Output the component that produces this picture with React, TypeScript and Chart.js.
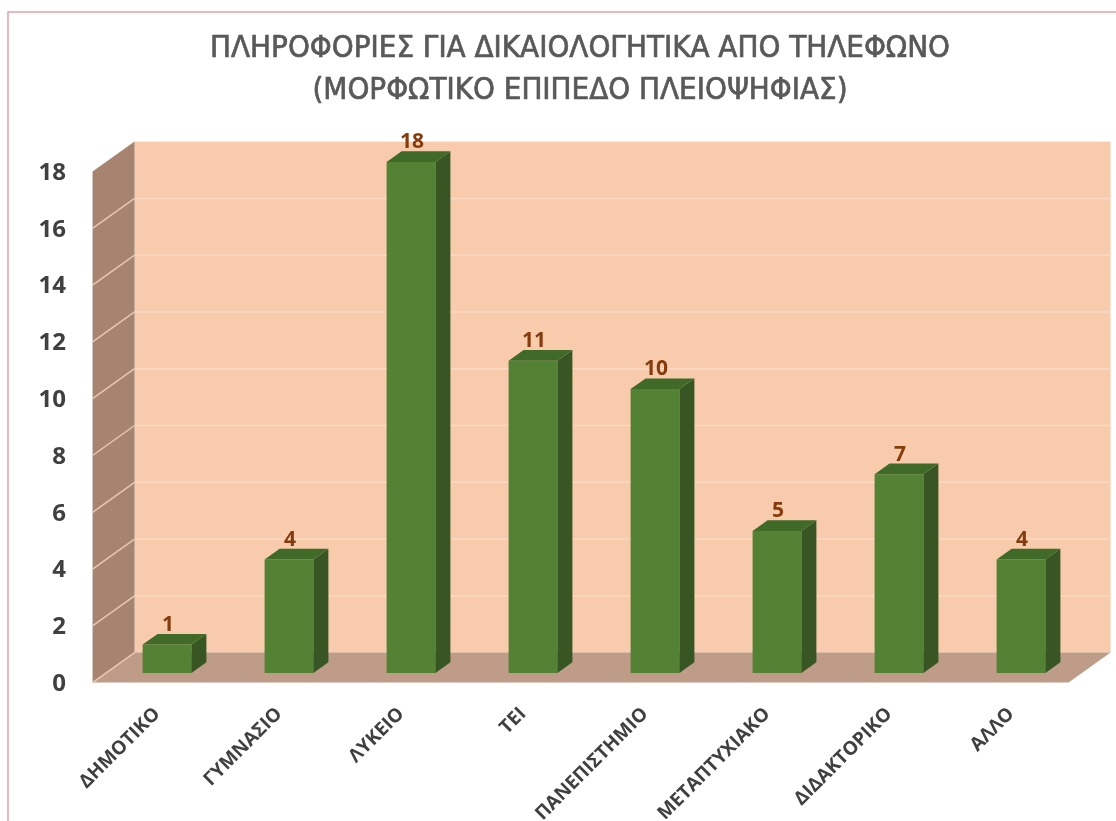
import React, { useEffect, useRef } from "react";
import { Chart, registerables } from "chart.js";

Chart.register(...registerables);

const TITLE_LINES = [
  "ΠΛΗΡΟΦΟΡΙΕΣ ΓΙΑ ΔΙΚΑΙΟΛΟΓΗΤΙΚΑ ΑΠΟ ΤΗΛΕΦΩΝΟ",
  "(ΜΟΡΦΩΤΙΚΟ ΕΠΙΠΕΔΟ ΠΛΕΙΟΨΗΦΙΑΣ)",
];

const CATEGORIES = [
  "ΔΗΜΟΤΙΚΟ",
  "ΓΥΜΝΑΣΙΟ",
  "ΛΥΚΕΙΟ",
  "ΤΕΙ",
  "ΠΑΝΕΠΙΣΤΗΜΙΟ",
  "ΜΕΤΑΠΤΥΧΙΑΚΟ",
  "ΔΙΔΑΚΤΟΡΙΚΟ",
  "ΑΛΛΟ",
];

const VALUES = [1, 4, 18, 11, 10, 5, 7, 4];

const Y_MIN = 0;
const Y_MAX = 18;
const Y_STEP = 2;

// 3D geometry (pixels)
const DEPTH_DX = 42;
const DEPTH_DY = -30;
const FRONT_FRAC = 0.32; // where bar front faces sit in the depth
const BAR_DX = 15;
const BAR_DY = -10.7;

const COLORS = {
  backWall: "#f8cbad",
  backGrid: "#fbd9c3",
  sideWall: "#a6846f",
  sideGrid: "#e9c8b2",
  floor: "#bf9c87",
  barFront: "#548235",
  barSide: "#375623",
  barTop: "#3f6a28",
  label: "#843c0c",
  axisText: "#404040",
  title: "#595959",
  frame: "#e0a3a8",
};

const wallsPlugin = {
  id: "walls3d",
  beforeDatasetsDraw(chart: any) {
    const { ctx, chartArea, scales } = chart;
    const y = scales.y;
    const fx = -FRONT_FRAC * DEPTH_DX;
    const fy = -FRONT_FRAC * DEPTH_DY;
    const bx = (1 - FRONT_FRAC) * DEPTH_DX;
    const by = (1 - FRONT_FRAC) * DEPTH_DY;
    const L = chartArea.left;
    const R = chartArea.right;
    const y0 = y.getPixelForValue(Y_MIN);
    const yT = y.getPixelForValue(Y_MAX);
    ctx.save();
    // frame
    ctx.strokeStyle = COLORS.frame;
    ctx.lineWidth = 1.5;
    ctx.beginPath();
    ctx.moveTo(8, chart.height + 5);
    ctx.lineTo(8, 12);
    ctx.lineTo(chart.width + 5, 12);
    ctx.stroke();
    // back wall
    ctx.fillStyle = COLORS.backWall;
    ctx.fillRect(L + bx, yT + by, R - L, y0 - yT);
    // back wall grid
    ctx.strokeStyle = COLORS.backGrid;
    ctx.lineWidth = 1.5;
    for (let v = Y_MIN + Y_STEP; v < Y_MAX; v += Y_STEP) {
      const py = y.getPixelForValue(v) + by;
      ctx.beginPath();
      ctx.moveTo(L + bx, py);
      ctx.lineTo(R + bx, py);
      ctx.stroke();
    }
    // side wall
    ctx.fillStyle = COLORS.sideWall;
    ctx.beginPath();
    ctx.moveTo(L + fx, y0 + fy);
    ctx.lineTo(L + fx, yT + fy);
    ctx.lineTo(L + bx, yT + by);
    ctx.lineTo(L + bx, y0 + by);
    ctx.closePath();
    ctx.fill();
    // floor
    ctx.fillStyle = COLORS.floor;
    ctx.beginPath();
    ctx.moveTo(L + fx, y0 + fy);
    ctx.lineTo(R + fx, y0 + fy);
    ctx.lineTo(R + bx, y0 + by);
    ctx.lineTo(L + bx, y0 + by);
    ctx.closePath();
    ctx.fill();
    // side wall grid
    ctx.strokeStyle = COLORS.sideGrid;
    ctx.lineWidth = 1.5;
    for (let v = Y_MIN; v < Y_MAX; v += Y_STEP) {
      const py = y.getPixelForValue(v);
      ctx.beginPath();
      ctx.moveTo(L + fx, py + fy);
      ctx.lineTo(L + bx, py + by);
      ctx.stroke();
    }
    ctx.restore();
  },
  afterDatasetsDraw(chart: any) {
    const { ctx } = chart;
    const meta = chart.getDatasetMeta(0);
    ctx.save();
    meta.data.forEach((bar: any, i: number) => {
      const { x, y, base, width } = bar.getProps(["x", "y", "base", "width"], true);
      const l = x - width / 2;
      const r = x + width / 2;
      // side
      ctx.fillStyle = COLORS.barSide;
      ctx.beginPath();
      ctx.moveTo(r, y);
      ctx.lineTo(r + BAR_DX, y + BAR_DY);
      ctx.lineTo(r + BAR_DX, base + BAR_DY);
      ctx.lineTo(r, base);
      ctx.closePath();
      ctx.fill();
      // top
      ctx.fillStyle = COLORS.barTop;
      ctx.beginPath();
      ctx.moveTo(l, y);
      ctx.lineTo(r, y);
      ctx.lineTo(r + BAR_DX, y + BAR_DY);
      ctx.lineTo(l + BAR_DX, y + BAR_DY);
      ctx.closePath();
      ctx.fill();
      // value label
      ctx.fillStyle = COLORS.label;
      ctx.font = 'bold 21px "Open Sans"';
      ctx.textAlign = "center";
      ctx.textBaseline = "alphabetic";
      ctx.fillText(String(VALUES[i]), x + 1, y + BAR_DY - 3);
    });
    ctx.restore();
  },
  afterDraw(chart: any) {
    const { ctx } = chart;
    ctx.save();
    ctx.fillStyle = COLORS.title;
    ctx.strokeStyle = COLORS.title;
    ctx.lineWidth = 0.7;
    ctx.font = '31px "DejaVu Sans Condensed", "DejaVu Sans"';
    try {
      (ctx as any).fontStretch = "condensed";
    } catch (e) {}
    ctx.textAlign = "center";
    ctx.textBaseline = "middle";
    ctx.fillText(TITLE_LINES[0], 580, 49);
    ctx.strokeText(TITLE_LINES[0], 580, 49);
    ctx.fillText(TITLE_LINES[1], 580, 91);
    ctx.strokeText(TITLE_LINES[1], 580, 91);
    ctx.restore();
  },
};

export default function App() {
  const ref = useRef<HTMLCanvasElement | null>(null);
  useEffect(() => {
    if (!ref.current) return;
    const chart = new Chart(ref.current, {
      type: "bar",
      data: {
        labels: CATEGORIES,
        datasets: [
          {
            data: VALUES,
            backgroundColor: COLORS.barFront,
            barPercentage: 0.4,
            categoryPercentage: 1,
          },
        ],
      },
      options: {
        responsive: false,
        animation: false,
        layout: { padding: { top: 162, right: 34, left: 0, bottom: 0 } },
        plugins: {
          legend: { display: false },
          title: { display: false },
          tooltip: { enabled: false },
        },
        scales: {
          x: {
            grid: { display: false, drawTicks: false },
            border: { display: false },
            ticks: {
              color: COLORS.axisText,
              font: { family: "Open Sans", weight: "bold", size: 19 },
              maxRotation: 45,
              minRotation: 45,
              padding: 30,
              labelOffset: -10,
              autoSkip: false,
            },
            afterFit: (s: any) => {
              s.height = 148;
            },
          },
          y: {
            min: Y_MIN,
            max: Y_MAX,
            grid: { display: false, drawTicks: false },
            border: { display: false },
            ticks: {
              stepSize: Y_STEP,
              color: COLORS.axisText,
              font: { family: "Open Sans", weight: "bold", size: 24 },
              padding: 40,
              labelOffset: 11,
            },
            afterFit: (s: any) => {
              s.width = 106;
            },
          },
        },
      },
      plugins: [wallsPlugin],
    });
    return () => chart.destroy();
  }, []);
  return (
    <canvas
      ref={ref}
      width={1116}
      height={821}
      style={{ position: "fixed", left: 0, top: 0, display: "block", background: "#ffffff" }}
    />
  );
}
